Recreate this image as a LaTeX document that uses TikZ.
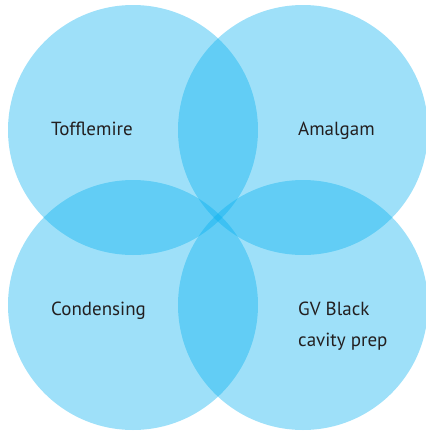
\documentclass[tikz,border=0pt]{standalone}
\usepackage{fontspec}
\setmainfont{PT Sans}
\definecolor{venncyan}{RGB}{0,174,239}
\definecolor{termgray}{RGB}{35,31,32}

\begin{document}
\begin{tikzpicture}[x=1pt,y=-1pt]
	\tikzset{blob/.style = {shape=circle, fill=venncyan, fill opacity=0.38,
			minimum size=250pt, inner sep=0pt}}
	\tikzset{term/.style = {anchor=base west, inner sep=0pt, text=termgray,
			font=\fontsize{19}{31}\selectfont, align=left}}
	
	\useasboundingbox (0,0) rectangle (426,432);
	
	% circles
	\node[blob] (tl) at (133,130) {};
	\node[blob] (tr) at (303,130) {};
	\node[blob] (bl) at (133,305) {};
	\node[blob] (br) at (303,305) {};
	
	% texts
	\node[term] (tofflemire) at (51,135) {Tofflemire};
	\node[term] (amalgam) at (298,135) {Amalgam};
	\node[term] (condensing) at (51,315) {Condensing};
	% base of a two-line node is its last line
	\node[term] (gvblack) at (298,346) {GV Black\\cavity prep};
	
\end{tikzpicture}
\end{document}
